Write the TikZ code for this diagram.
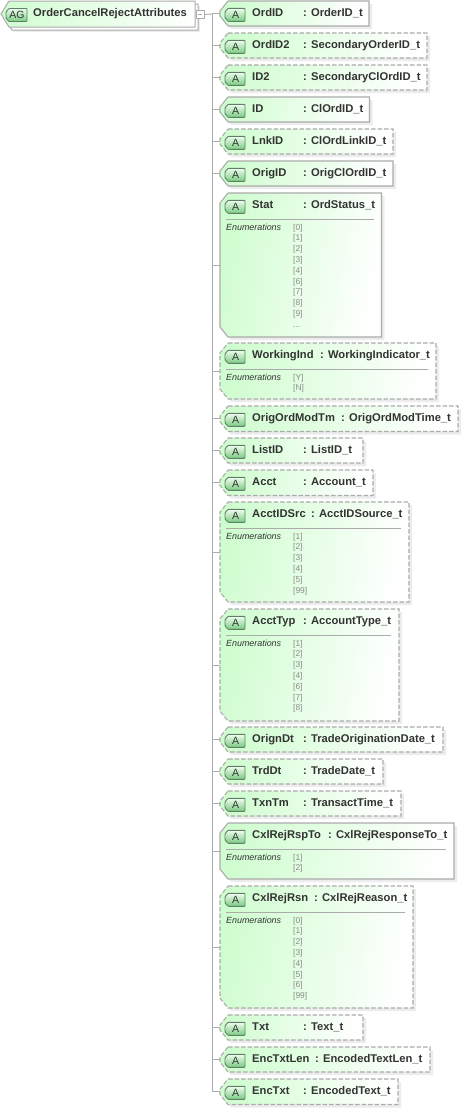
\documentclass[tikz,border=0pt]{standalone}
\usepackage{fontspec}
\setmainfont{Liberation Sans}
\definecolor{edgegray}{HTML}{ABABAB}
\definecolor{shadowgray}{HTML}{ECECEC}
\definecolor{boxgreen}{HTML}{D0FDD0}
\definecolor{tagborder}{HTML}{5F7F67}
\definecolor{tagtop}{HTML}{EFFDEF}
\definecolor{tagbot}{HTML}{78CC80}
\definecolor{txt}{HTML}{333333}
\definecolor{enumtxt}{HTML}{8A8A8A}
\newcommand{\dotstxt}{...}
\tikzset{
  x=1pt,y=-1pt,
  boxbase/.style={draw=edgegray,line width=1.1pt,left color=boxgreen,right color=white,shading angle=80},
  solidbox/.style={boxbase},
  dashbox/.style={boxbase,dash pattern=on 4.5pt off 2pt},
  shadowshape/.style={fill=shadowgray,draw=none},
  tagshape/.style={draw=tagborder,line width=.9pt,top color=tagtop,bottom color=tagbot,rounded corners=.8pt},
  taglabel/.style={inner sep=0pt,font=\fontsize{10.5}{11}\selectfont,text=txt},
  anchorbox/.style={anchor=north west,inner sep=0pt,outer sep=0pt},
  nametxt/.style={anchor=base west,inner sep=0pt,font=\fontsize{11.2}{12}\selectfont\bfseries,text=txt},
  enumhead/.style={anchor=base west,inner sep=0pt,font=\fontsize{8.9}{10}\selectfont\itshape,text=black!80},
  enumval/.style={anchor=base west,inner sep=0pt,font=\fontsize{8.4}{10}\selectfont,text=enumtxt},
  divider/.style={draw=edgegray,line width=.8pt},
  conn/.style={draw=edgegray,line width=.9pt},
}
% options, x0, y0, x1, y1, chamfer y
\newcommand{\chamfershape}[6]{%
  \path[#1] (#2+8,#3) -- (#4,#3) -- (#4,#5) -- (#2+8,#5) -- (#2,#5-#6) -- (#2,#3+#6) -- cycle;
}
\newcommand{\tagshapeat}[5]{%
  \path[tagshape] (#2+3,#3-6.5) -- (#2+#4,#3-6.5) -- (#2+#4,#3+6.5) -- (#2+3,#3+6.5) -- (#2,#3+3) -- (#2,#3-3) -- cycle;
  \node[taglabel] (#1) at (#2+#4/2+.5,#3+.3) {#5};
}
% id, top, bottom, right, style, name, colon x, type
\newcommand{\attrrow}[8]{%
  \pgfmathsetmacro{\rwd}{#4-220}\pgfmathsetmacro{\rht}{#3-#2}%
  \pgfmathsetmacro{\rch}{min(\rht/2,10)}%
  \chamfershape{shadowshape}{223}{#2+3}{#4+3}{#3+3}{\rch}
  \chamfershape{#5}{220}{#2}{#4}{#3}{\rch}
  \node[anchorbox,minimum width=\rwd pt,minimum height=\rht pt] (#1) at (220,#2) {};
  \tagshapeat{#1tag}{225}{#2+13.8}{20}{A}
  \node[nametxt] (#1name) at (252,#2+15.7) {#6};
  \node[nametxt] (#1type) at (#7,#2+15.7) {: #8};
  \draw[conn] (trunk |- #1.west) -- (#1.west);
}
% id, top, right, list
\newcommand{\enumblock}[4]{%
  \draw[divider] (226,#2+26) -- (#3-8,#2+26);
  \node[enumhead] (#1head) at (226,#2+37) {Enumerations};
  \foreach \enumv [count=\enumk from 0] in {#4} {
    \node[enumval] (#1v\enumk) at (293,#2+37+10.8*\enumk) {\enumv};
  }
}
\begin{document}
\begin{tikzpicture}
\useasboundingbox (0,0) rectangle (461,1109);
\coordinate (trunk) at (212,14);
% root
\chamfershape{shadowshape}{6}{6}{200}{32}{13}
\chamfershape{draw=edgegray,line width=1pt,fill=white}{4}{4}{198}{30}{13}
\chamfershape{draw=edgegray,line width=1pt,left color=boxgreen,right color=white}{1}{1}{195}{27}{13}
\node[anchorbox,minimum width=194pt,minimum height=26pt] (root) at (1,1) {};
\tagshapeat{roottag}{6}{15}{21}{AG}
\node[nametxt] (rootname) at (33,16.7) {OrderCancelRejectAttributes};
\node[draw=edgegray,fill=white,line width=.9pt,minimum width=8pt,minimum height=8pt,inner sep=0pt,outer sep=0pt] (toggle) at (200,14.5) {};
\draw[conn] (toggle.west) ++(2,0) -- ++(4,0);
\attrrow{a1}{1}{26}{369}{solidbox}{OrdID}{303}{OrderID\_t}
\attrrow{a2}{33}{58}{427}{dashbox}{OrdID2}{303}{SecondaryOrderID\_t}
\attrrow{a3}{65}{90}{427}{dashbox}{ID2}{303}{SecondaryClOrdID\_t}
\attrrow{a4}{97}{122}{369.5}{solidbox}{ID}{303}{ClOrdID\_t}
\attrrow{a5}{129}{154}{393}{dashbox}{LnkID}{303}{ClOrdLinkID\_t}
\attrrow{a6}{161}{186}{393}{solidbox}{OrigID}{303}{OrigClOrdID\_t}
\attrrow{a7}{193}{337}{381.5}{solidbox}{Stat}{303}{OrdStatus\_t}
\enumblock{a7}{193}{381.5}{[0],[1],[2],[3],[4],[6],[7],[8],[9],\dotstxt}
\attrrow{a8}{343}{399}{436}{dashbox}{WorkingInd}{320}{WorkingIndicator\_t}
\enumblock{a8}{343}{436}{[Y],[N]}
\attrrow{a9}{406}{431.5}{458}{dashbox}{OrigOrdModTm}{341}{OrigOrdModTime\_t}
\attrrow{a10}{438}{463}{363}{dashbox}{ListID}{303}{ListID\_t}
\attrrow{a11}{470}{495.5}{373}{dashbox}{Acct}{303}{Account\_t}
\attrrow{a12}{502}{602}{409}{dashbox}{AcctIDSrc}{311}{AcctIDSource\_t}
\enumblock{a12}{502}{409}{[1],[2],[3],[4],[5],[99]}
\attrrow{a13}{609}{721}{399}{dashbox}{AcctTyp}{303}{AccountType\_t}
\enumblock{a13}{609}{399}{[1],[2],[3],[4],[6],[7],[8]}
\attrrow{a14}{727}{752}{443}{dashbox}{OrignDt}{303}{TradeOriginationDate\_t}
\attrrow{a15}{759}{784}{383}{dashbox}{TrdDt}{303}{TradeDate\_t}
\attrrow{a16}{791}{816}{401}{dashbox}{TxnTm}{303}{TransactTime\_t}
\attrrow{a17}{823}{879}{454}{solidbox}{CxlRejRspTo}{328}{CxlRejResponseTo\_t}
\enumblock{a17}{823}{454}{[1],[2]}
\attrrow{a18}{886}{1008}{413}{dashbox}{CxlRejRsn}{314}{CxlRejReason\_t}
\enumblock{a18}{886}{413}{[0],[1],[2],[3],[4],[5],[6],[99]}
\attrrow{a19}{1015}{1040}{363}{dashbox}{Txt}{303}{Text\_t}
\attrrow{a20}{1047}{1072}{430}{dashbox}{EncTxtLen}{315}{EncodedTextLen\_t}
\attrrow{a21}{1079}{1104.5}{398}{dashbox}{EncTxt}{303}{EncodedText\_t}
\draw[conn] (toggle.east) -- (trunk);
\draw[conn] (trunk) -- (trunk |- a21.west);
\end{tikzpicture}
\end{document}
